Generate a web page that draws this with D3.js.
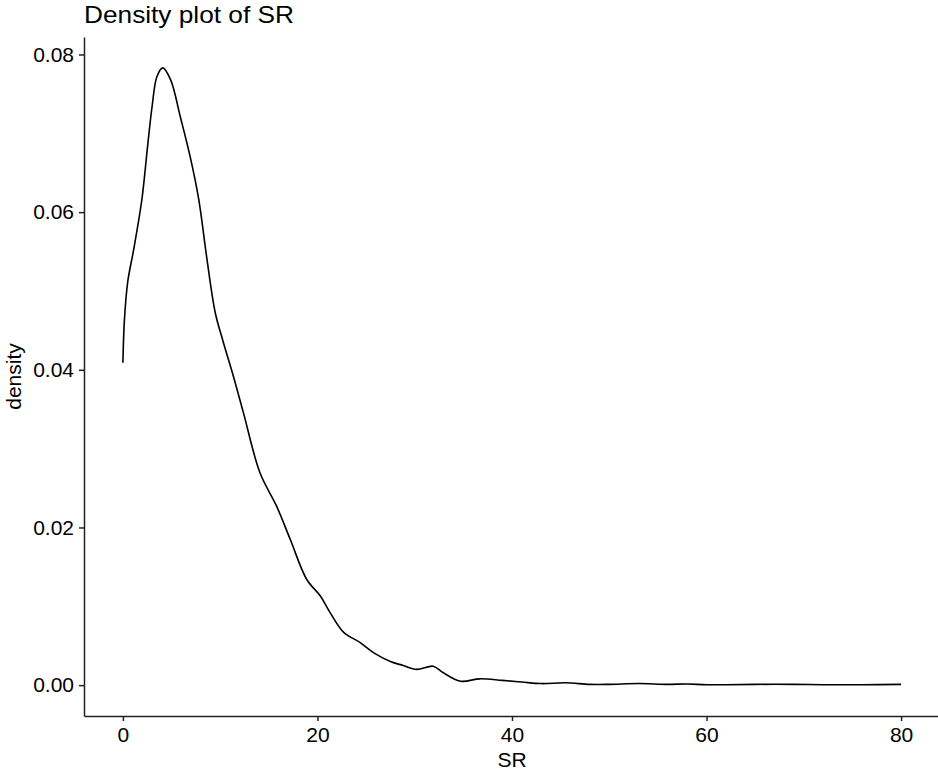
<!DOCTYPE html>
<html>
<head>
<meta charset="utf-8">
<script src="https://d3js.org/d3.v7.min.js"></script>
<style>
  body { margin: 0; background: #fff; }
  text { font-family: "Liberation Sans", Arial, Helvetica, sans-serif; fill: #000; }
</style>
</head>
<body>
<div id="main"></div>
<script>
// values
let srValues = [0, 0.15, 0.5, 1.1, 1.95, 2.5, 3.0, 3.5, 4.1, 4.9, 5.9, 6.9, 7.8, 8.6, 9.5, 10.3, 11.4, 12.4, 14.1, 15.8, 17.2, 18.9, 20.3, 21.3, 22.7, 24.4, 25.8, 27.5, 28.8, 30.2, 31.9, 32.9, 34.7, 36.7, 39, 41, 43, 45.5, 48, 50, 53, 56, 58, 60, 62, 65, 69, 72, 76, 80];
let densityValues = [0.0409, 0.0462, 0.0512, 0.0552, 0.0616, 0.0679, 0.0734, 0.0772, 0.0783, 0.0768, 0.0721, 0.0671, 0.0616, 0.0544, 0.0472, 0.0436, 0.0390, 0.0345, 0.0269, 0.0227, 0.0185, 0.0134, 0.0113, 0.0092, 0.0067, 0.0054, 0.0041, 0.0030, 0.0025, 0.0020, 0.0024, 0.0016, 0.0005, 0.0008, 0.0006, 0.0004, 0.0002, 0.0003, 0.0001, 0.0001, 0.0002, 0.0001, 0.00015, 0.00005, 0.00005, 0.0001, 0.0001, 0.00005, 0.00005, 0.0001];
let xTicks = [0, 20, 40, 60, 80];
let yTicks = [0, 0.02, 0.04, 0.06, 0.08];

let width = 938, height = 771;
let panel = {left: 84, right: 940, top: 37, bottom: 716};

let data = srValues.map((d, i) => ({sr: d, density: densityValues[i]}));

// ggplot-like 5% expansion
let xMin = d3.min(srValues), xMax = d3.max(srValues);
let yMin = 0, yMax = d3.max(densityValues);
let xPad = (xMax - xMin) * 0.05, yPad = (yMax - yMin) * 0.05;

let x = d3.scaleLinear()
	.domain([xMin - xPad, xMax + xPad])
	.range([panel.left, panel.right]);

let y = d3.scaleLinear()
	.domain([yMin - yPad, yMax + yPad])
	.range([panel.bottom, panel.top]);

let svg = d3.select("#main")
	.append("svg")
	.attr("width", width)
	.attr("height", height);

let line = d3.line()
	.x(d => x(d.sr))
	.y(d => y(d.density))
	.curve(d3.curveCatmullRom.alpha(0.5));

svg.append("path")
	.datum(data)
	.attr("fill", "none")
	.attr("stroke", "#000")
	.attr("stroke-width", 1.6)
	.attr("d", line);

let xAxis = svg.append("g")
	.attr("transform", "translate(0," + panel.bottom + ")")
	.call(d3.axisBottom(x).tickValues(xTicks).tickFormat(d3.format("d")).tickSize(5).tickPadding(6).tickSizeOuter(0));

let yAxis = svg.append("g")
	.attr("transform", "translate(" + panel.left + ",0)")
	.call(d3.axisLeft(y).tickValues(yTicks).tickFormat(d3.format(".2f")).tickSize(5).tickPadding(5).tickSizeOuter(0));

[xAxis, yAxis].forEach(g => {
	g.select(".domain").attr("stroke", "#222").attr("stroke-width", 1.5);
	g.selectAll(".tick line").attr("stroke", "#222").attr("stroke-width", 1.5);
	g.selectAll(".tick text")
		.attr("fill", "#111")
		.style("font-size", "21px")
		.style("font-family", "'Liberation Sans', Arial, sans-serif");
});

// title: slightly wider glyphs in the reference, stretch to its width
svg.append("text")
	.attr("x", panel.left)
	.attr("y", 23)
	.attr("textLength", 210)
	.attr("lengthAdjust", "spacingAndGlyphs")
	.style("font-size", "24px")
	.text("Density plot of SR");

svg.append("text")
	.attr("x", (panel.left + panel.right) / 2)
	.attr("y", 767)
	.attr("text-anchor", "middle")
	.style("font-size", "21px")
	.text("SR");

svg.append("text")
	.attr("transform", "translate(21," + (panel.top + panel.bottom) / 2 + ") rotate(-90)")
	.attr("text-anchor", "middle")
	.style("font-size", "21px")
	.text("density");
</script>
</body>
</html>
